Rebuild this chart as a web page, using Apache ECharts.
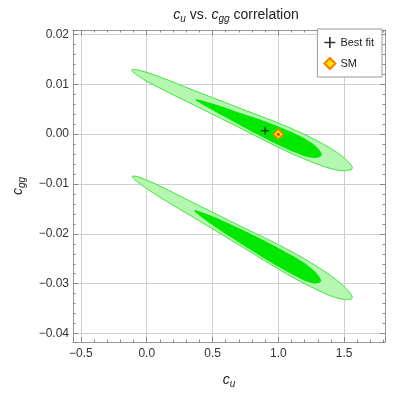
<!DOCTYPE html>
<html>
<head>
<meta charset="utf-8">
<script src="https://cdn.jsdelivr.net/npm/echarts@6/dist/echarts.min.js"></script>
<style>
  html, body { margin: 0; padding: 0; background: #fff; }
  #main { width: 395px; height: 394px; }
</style>
</head>
<body>
<div id="main"></div>
<script>
// contour outlines [c_u, c_gg]
var outerUpper = [
    [-0.114, 0.01286], [-0.0637, 0.01287], [0.0871, 0.01160], [0.3888, 0.00846], [0.724, 0.00503],
    [1.0592, 0.00160], [1.3106, -0.00155], [1.4782, -0.00432], [1.562, -0.0068],
    [1.4782, -0.00732], [1.3106, -0.00615], [1.0592, -0.00340], [0.724, 0.00103],
    [0.3888, 0.00546], [0.0871, 0.00940], [-0.0637, 0.01167]
];
var innerUpper = [
    [0.367, 0.0070], [0.4055, 0.00685], [0.5115, 0.00603], [0.6559, 0.00476], [0.8485, 0.00303],
    [1.0411, 0.00110], [1.1856, -0.00067], [1.2819, -0.00238], [1.330, -0.00414],
    [1.2819, -0.00478], [1.1856, -0.00427], [1.0411, -0.00270], [0.8485, -0.00017],
    [0.6559, 0.00256], [0.5115, 0.00463], [0.4055, 0.00625]
];
var outerLower = [
    [-0.109, -0.00848], [-0.0589, -0.00861], [0.0915, -0.01030], [0.3923, -0.01428], [0.7265, -0.01864],
    [1.0607, -0.02300], [1.3114, -0.02685], [1.4785, -0.03008], [1.562, -0.0328],
    [1.4785, -0.03308], [1.3114, -0.03145], [1.0607, -0.02800], [0.7265, -0.02264],
    [0.3923, -0.01728], [0.0915, -0.01250], [-0.0589, -0.00981]
];
var innerLower = [
    [0.359, -0.01528], [0.3976, -0.01545], [0.5039, -0.01651], [0.6488, -0.01824], [0.842, -0.02068],
    [1.0352, -0.02332], [1.1801, -0.02555], [1.2767, -0.02757], [1.325, -0.02948],
    [1.2767, -0.02997], [1.1801, -0.02915], [1.0352, -0.02712], [0.842, -0.02408],
    [0.6488, -0.02084], [0.5039, -0.01831], [0.3976, -0.01625]
];
var bestFit = [[0.899, 0.0007]];
var smPoint = [[1.0, 0.0]];

var xRange = [-0.56, 1.81];
var yRange = [-0.0417, 0.0209];

var FONT = 'Liberation Sans';

var outerList = [outerUpper, outerLower];
var innerList = [innerUpper, innerLower];

//画区域轮廓
function makeRender(list, st){
    return function(params, api){
        var pts = list[params.dataIndex].map(function(p){ return api.coord(p); });
        return {
            type: 'polygon',
            shape: { points: pts, smooth: 0.35 },
            style: st
        };
    };
}

function fmtNum(d){
    return function(v){
        var s = (Math.abs(v) < 1e-9 ? 0 : v).toFixed(d);
        return s.replace('-', '\u2212');
    };
}

var rich = {
    i: { fontFamily: FONT, fontStyle: 'italic', fontWeight: 'normal', fontSize: 14, color: '#222' },
    s: { fontFamily: FONT, fontStyle: 'italic', fontWeight: 'normal', fontSize: 10, color: '#222', padding: [7, 0, 0, 0] },
    t: { fontFamily: FONT, fontWeight: 'normal', fontSize: 14, color: '#222' }
};

var tickStyle = { show: true, inside: true, length: 5, lineStyle: { color: '#888' } };
var minorStyle = { show: true, splitNumber: 5, length: 2.5, lineStyle: { color: '#888' } };
var lineStyle = { show: true, onZero: false, lineStyle: { color: '#999', width: 1 } };

var option = {
    animation: false,
    backgroundColor: '#fff',
    title: {
        text: '{i|c}{s|u}{t| vs. }{i|c}{s|gg}{t| correlation}',
        left: 231, top: 2, textAlign: 'center',
        textStyle: { fontWeight: 'normal', rich: rich }
    },
    legend: {
        data: ['Best fit', 'SM'],
        orient: 'vertical',
        right: 13, top: 29,
        backgroundColor: '#fff',
        borderColor: '#999', borderWidth: 1,
        padding: [8, 8, 7, 6],
        itemGap: 9, itemWidth: 11, itemHeight: 11,
        textStyle: { fontFamily: FONT, fontSize: 11, color: '#222' }
    },
    grid: { left: 73, right: 10, top: 30, bottom: 51, containLabel: false },
    xAxis: [{
        type: 'value', min: xRange[0], max: xRange[1], splitNumber: 5,
        name: '{i|c}{s|u}', nameLocation: 'middle', nameGap: 30,
        nameTextStyle: { rich: rich },
        axisLine: lineStyle, axisTick: tickStyle, minorTick: minorStyle,
        axisLabel: { fontFamily: FONT, fontSize: 12, color: '#333', margin: 6,
            showMinLabel: false, showMaxLabel: false, formatter: fmtNum(1) },
        splitLine: { show: true, lineStyle: { color: '#cfcfcf', width: 1 } }
    }, {
        type: 'value', position: 'top', min: xRange[0], max: xRange[1], splitNumber: 5,
        axisLine: lineStyle, axisTick: tickStyle, minorTick: minorStyle,
        axisLabel: { show: false }, splitLine: { show: false }
    }],
    yAxis: [{
        type: 'value', min: yRange[0], max: yRange[1], splitNumber: 5,
        name: '{i|c}{s|gg}', nameLocation: 'middle', nameGap: 46, nameRotate: 90,
        nameTextStyle: { rich: rich },
        axisLine: lineStyle, axisTick: tickStyle, minorTick: minorStyle,
        axisLabel: { fontFamily: FONT, fontSize: 12, color: '#333', margin: 4,
            showMinLabel: false, showMaxLabel: false, formatter: fmtNum(2) },
        splitLine: { show: true, lineStyle: { color: '#cfcfcf', width: 1 } }
    }, {
        type: 'value', position: 'right', min: yRange[0], max: yRange[1], splitNumber: 5,
        axisLine: lineStyle, axisTick: tickStyle, minorTick: minorStyle,
        axisLabel: { show: false }, splitLine: { show: false }
    }],
    series: [{
        name: 'outer', type: 'custom', z: 2, silent: true,
        renderItem: makeRender(outerList, { fill: '#b5f7b0', stroke: '#3ee83a', lineWidth: 1 }),
        data: [0, 1]
    }, {
        name: 'inner', type: 'custom', z: 3, silent: true,
        renderItem: makeRender(innerList, { fill: '#00e800', stroke: null }),
        data: [0, 1]
    }, {
        name: 'Best fit', type: 'scatter', data: bestFit, z: 5,
        symbol: 'path://M0,3.4h8v1.2h-8z M3.4,0h1.2v8h-1.2z',
        symbolSize: 8,
        itemStyle: { color: '#000' }
    }, {
        name: 'SM', type: 'scatter', data: smPoint, z: 5,
        symbol: 'diamond', symbolSize: 10,
        itemStyle: { color: '#ffe600', borderColor: '#ff7a00', borderWidth: 1.5, opacity: 1 }
    }, {
        name: 'SMdot', type: 'scatter', data: smPoint, z: 6,
        symbol: 'circle', symbolSize: 3,
        itemStyle: { color: '#e00000' }
    }]
};

var chart = echarts.init(document.getElementById('main'));
chart.setOption(option);
</script>
</body>
</html>
